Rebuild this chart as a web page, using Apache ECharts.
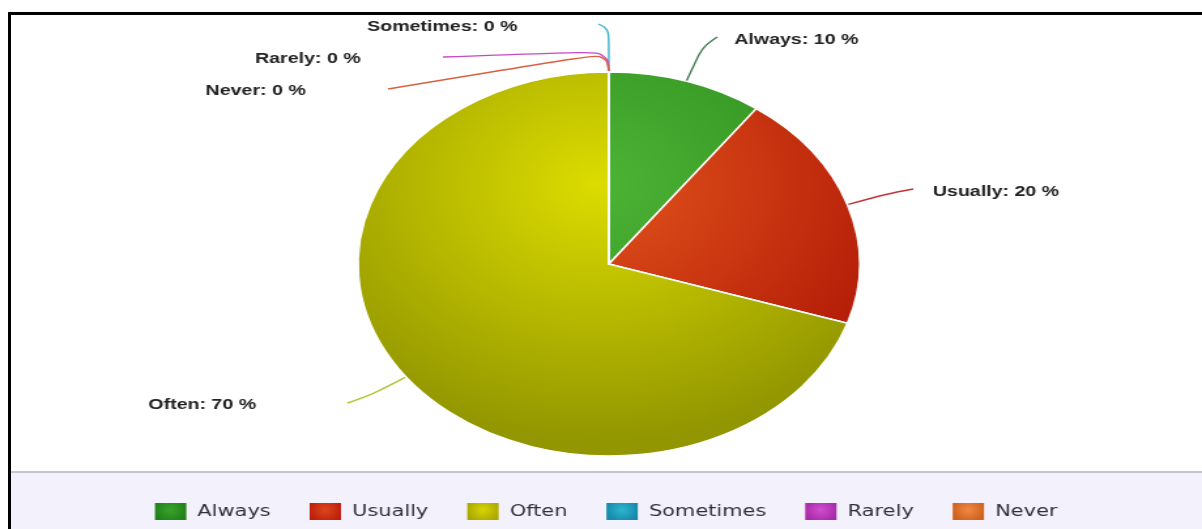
<!DOCTYPE html>
<html>
<head>
<meta charset="utf-8">
<script src="https://cdn.jsdelivr.net/npm/echarts@6/dist/echarts.min.js"></script>
<style>
  html, body { margin: 0; padding: 0; background: #ffffff; width: 1202px; height: 529px; overflow: hidden; }
  #frame { position: absolute; left: 8px; top: 12px; right: 0; bottom: 0; border-left: 3px solid #000; border-top: 3px solid #000; }
  #band { position: absolute; left: 11px; right: 0; top: 471px; bottom: 0; background: #f2f1fc; border-top: 2px solid #c4c4cc; }
  #chart { position: absolute; left: 0; top: 0; width: 920px; height: 529px; transform: scaleX(1.30652); transform-origin: 0 0; }
</style>
</head>
<body>
<div id="frame"></div>
<div id="band"></div>
<div id="chart"></div>
<script>
// ---- data ----
const categories = ['Always', 'Usually', 'Often', 'Sometimes', 'Rarely', 'Never'];
const values = [10, 20, 70, 0, 0, 0];

// ---- styles ----
const lightColors = ['#4db436', '#e2541c', '#dcdc00', '#2ab4d4', '#d04cd0', '#ec8040'];
const darkColors  = ['#2a881a', '#b01806', '#929600', '#1690b0', '#a830a8', '#c85a20'];
const legendLight = ['#3aa42a', '#e0461c', '#d8d400', '#2cb6d2', '#d04ed0', '#ee8a44'];
const legendDark  = ['#22801a', '#bc200c', '#aaa800', '#1688a8', '#a82aa8', '#d0601e'];
const lineColors = ['#3f7a50', '#c0343a', '#b4c434', '#3cb0cc', '#c848c8', '#d86040'];

const CX = 466, CY = 264, R = 192;

// label anchor positions and label-line routing (layout, unscaled px)
const labelPos = [
  { x: 562, y: 40, align: 'left',  pts: [[525.3, 81.4], [538, 46], [549, 37]] },
  { x: 714, y: 192, align: 'left', pts: [[648.6, 204.7], [678, 194], [699, 189]] },
  { x: 196, y: 405, align: 'right', pts: [[310.7, 376.9], [286, 394], [266, 403]] },
  { x: 396, y: 27, align: 'right', pts: [[466, 72], [466, 29], [458, 24]] },
  { x: 276, y: 59, align: 'right', pts: [[466, 72], [465, 51], [339, 57]] },
  { x: 234, y: 91, align: 'right', pts: [[466, 72], [464, 53], [297, 89]] }
];

function grad(i) {
  return new echarts.graphic.RadialGradient(CX - 10, CY - 80, R * 1.35, [
    { offset: 0, color: lightColors[i] },
    { offset: 1, color: darkColors[i] }
  ], true);
}
function legendGrad(i) {
  return new echarts.graphic.RadialGradient(0.5, 0.4, 0.75, [
    { offset: 0, color: legendLight[i] },
    { offset: 1, color: legendDark[i] }
  ]);
}

const chart = echarts.init(document.getElementById('chart'), null, { renderer: 'canvas' });

const option = {
  animation: false,
  backgroundColor: 'transparent',
  legend: {
    left: 113.6,
    top: 498,
    orient: 'horizontal',
    itemWidth: 24,
    itemHeight: 17,
    itemGap: 29.8,
    icon: 'rect',
    itemStyle: { borderWidth: 0 },
    textStyle: { fontFamily: 'DejaVu Sans', fontSize: 16, color: '#30303c', padding: [0, 0, 0, 3.5] },
    data: categories.map((c, i) => ({ name: c, itemStyle: { color: legendGrad(i), borderWidth: 0 } }))
  },
  series: [{
    type: 'pie',
    center: [CX, CY],
    radius: R,
    startAngle: 90,
    clockwise: true,
    avoidLabelOverlap: false,
    minShowLabelAngle: 0,
    stillShowZeroSum: true,
    itemStyle: { borderColor: '#ffffff', borderWidth: 1.5 },
    label: {
      show: true,
      position: 'outside',
      formatter: '{b}: {c} %',
      fontFamily: 'Liberation Sans',
      fontWeight: 'bold',
      fontSize: 15,
      color: '#222'
    },
    labelLine: { show: true, smooth: 0.4, lineStyle: { width: 1.4 } },
    labelLayout: function (params) {
      const p = labelPos[params.dataIndex];
      return {
        x: p.x,
        y: p.y,
        align: p.align,
        verticalAlign: 'middle',
        labelLinePoints: p.pts
      };
    },
    emphasis: { disabled: true },
    data: categories.map((c, i) => ({
      name: c,
      value: values[i],
      itemStyle: { color: grad(i) },
      labelLine: { lineStyle: { color: lineColors[i] } }
    }))
  }]
};
chart.setOption(option);
</script>
</body>
</html>
